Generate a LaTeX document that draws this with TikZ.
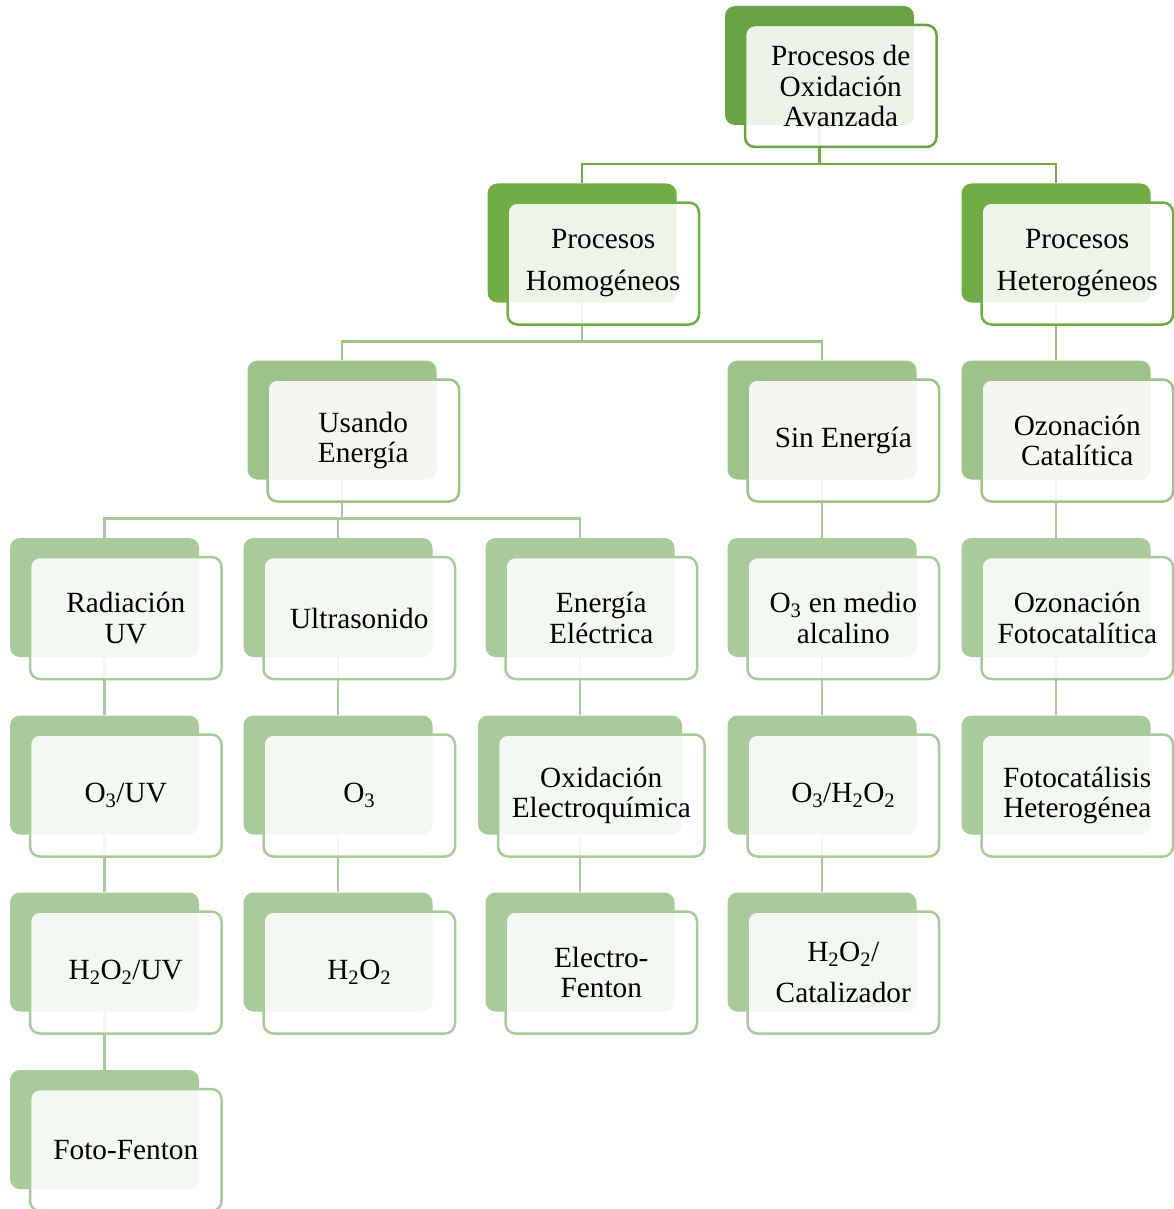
\documentclass[tikz,border=0pt]{standalone}
\usepackage{fontspec}
\setmainfont{Liberation Serif}
\usetikzlibrary{positioning,backgrounds}

\definecolor{verde0}{RGB}{106,163,70}
\definecolor{verde1}{RGB}{112,173,71}
\definecolor{verde2}{RGB}{157,195,138}
\definecolor{verde3}{RGB}{169,203,156}

\newcommand{\sbs}[1]{\textsubscript{#1}}

% caja doble: [ancho]{nombre}{x}{y}{color}{texto}
\newcommand{\caja}[6][189pt]{%
  \node[back=#1, fill=#5] (#2) at (#3,#4) {};
  \node[front={#1+2.5pt}, draw=#5] (#2f) at ([shift={(21.25,-20.5)}]#2.center) {#6};
}

\begin{document}
\begin{tikzpicture}[x=1pt, y=1pt,
    back/.style={rounded corners=10pt, minimum width=#1, minimum height=119pt, inner sep=0pt},
    front/.style={rounded corners=10pt, line width=2.5pt, fill=white, fill opacity=0.88,
      text opacity=1, minimum width=#1, minimum height=122pt, inner sep=0pt,
      align=center, font=\fontsize{29.3}{30.5}\selectfont},
    lnk/.style={line width=2.5pt, draw=#1}]

    \useasboundingbox (0,0) rectangle (1173,-1209);

    % nivel 0 y 1
    \caja{poa}{819.5}{-65.5}{verde0}{Procesos de\\Oxidación\\Avanzada}
    \caja{hom}{582}{-243}{verde1}{Procesos\\[11.5pt]Homogéneos}
    \caja{het}{1056}{-243}{verde1}{Procesos\\[11.5pt]Heterogéneos}

    % nivel 2
    \caja{usa}{342}{-420}{verde2}{Usando\\Energía}
    \caja{sin}{822}{-420}{verde2}{Sin Energía}
    \caja{ozc}{1056}{-420}{verde2}{Ozonación\\Catalítica}

    % nivel 3
    \caja{rad}{104.5}{-597.5}{verde3}{Radiación\\UV}
    \caja{ult}{338}{-597.5}{verde3}{Ultrasonido}
    \caja{ele}{580}{-597.5}{verde3}{Energía\\Eléctrica}
    \caja{o3al}{822}{-597.5}{verde3}{O\sbs{3} en medio\\alcalino}
    \caja{ozf}{1056}{-597.5}{verde3}{Ozonación\\Fotocatalítica}

    % nivel 4
    \caja{o3uv}{104.5}{-775}{verde3}{O\sbs{3}/UV}
    \caja{o3}{338}{-775}{verde3}{O\sbs{3}}
    \caja[204pt]{oxe}{580}{-775}{verde3}{Oxidación\\Electroquímica}
    \caja{o3h}{822}{-775}{verde3}{O\sbs{3}/H\sbs{2}O\sbs{2}}
    \caja{fhet}{1056}{-775}{verde3}{Fotocatálisis\\Heterogénea}

    % nivel 5 y 6
    \caja{h2uv}{104.5}{-952}{verde3}{H\sbs{2}O\sbs{2}/UV}
    \caja{h2o2}{338}{-952}{verde3}{H\sbs{2}O\sbs{2}}
    \caja{efen}{580}{-952}{verde3}{Electro-\\Fenton}
    \caja{hcat}{822}{-952}{verde3}{H\sbs{2}O\sbs{2}/\\[11pt]Catalizador}
    \caja{ffen}{104.5}{-1129.5}{verde3}{Foto-Fenton}

    \begin{scope}[on background layer]
      \draw[lnk=verde1] (poa.south) -- ++(0,-39) coordinate (bus0);
      \draw[lnk=verde1] (bus0) -| (hom.north);
      \draw[lnk=verde1] (bus0) -| (het.north);

      \draw[lnk=verde2] (hom.south) -- ++(0,-39) coordinate (bus1);
      \draw[lnk=verde2] (bus1) -| (usa.north);
      \draw[lnk=verde2] (bus1) -| (sin.north);
      \draw[lnk=verde2] (het.south) -- (ozc.north);

      \draw[lnk=verde3] (usa.south) -- ++(0,-39) coordinate (bus2);
      \draw[lnk=verde3] (bus2) -| (rad.north);
      \draw[lnk=verde3] (bus2) -| (ult.north);
      \draw[lnk=verde3] (bus2) -| (ele.north);

      \draw[lnk=verde3] (sin.south) -- (o3al.north);
      \draw[lnk=verde3] (ozc.south) -- (ozf.north);
      \draw[lnk=verde3] (rad.south) -- (o3uv.north);
      \draw[lnk=verde3] (ult.south) -- (o3.north);
      \draw[lnk=verde3] (ele.south) -- (oxe.north);
      \draw[lnk=verde3] (o3al.south) -- (o3h.north);
      \draw[lnk=verde3] (ozf.south) -- (fhet.north);
      \draw[lnk=verde3] (o3uv.south) -- (h2uv.north);
      \draw[lnk=verde3] (o3.south) -- (h2o2.north);
      \draw[lnk=verde3] (oxe.south) -- (efen.north);
      \draw[lnk=verde3] (o3h.south) -- (hcat.north);
      \draw[lnk=verde3] (h2uv.south) -- (ffen.north);
    \end{scope}
\end{tikzpicture}
\end{document}
